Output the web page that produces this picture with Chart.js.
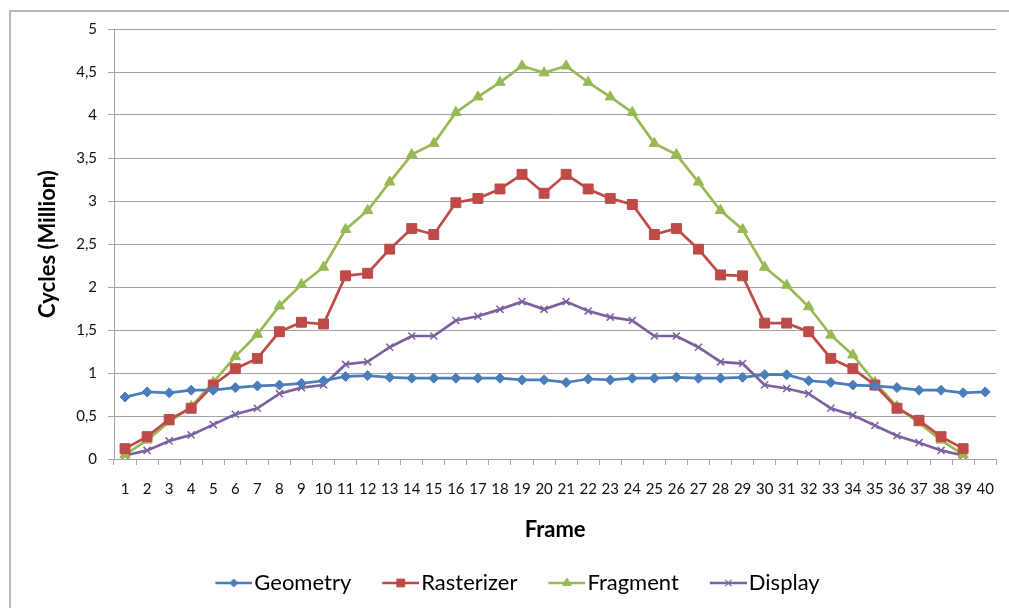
<!DOCTYPE html>
<html>
<head>
<meta charset="utf-8">
<script src="https://cdn.jsdelivr.net/npm/chart.js@4.4.1/dist/chart.umd.min.js"></script>
<style>
  html, body { margin: 0; padding: 0; background: #fff; }
  canvas { display: block; }
</style>
</head>
<body>
<canvas id="chart" width="1009" height="608"></canvas>
<script>
const frames = ['1', '2', '3', '4', '5', '6', '7', '8', '9', '10',
  '11', '12', '13', '14', '15', '16', '17', '18', '19', '20',
  '21', '22', '23', '24', '25', '26', '27', '28', '29', '30',
  '31', '32', '33', '34', '35', '36', '37', '38', '39', '40'];

const geometry = [0.72, 0.78, 0.77, 0.80, 0.80, 0.83, 0.85, 0.86, 0.88, 0.91,
  0.96, 0.97, 0.95, 0.94, 0.94, 0.94, 0.94, 0.94, 0.92, 0.92,
  0.89, 0.93, 0.92, 0.94, 0.94, 0.95, 0.94, 0.94, 0.95, 0.98,
  0.98, 0.91, 0.89, 0.86, 0.85, 0.83, 0.80, 0.80, 0.77, 0.78];

const rasterizer = [0.12, 0.26, 0.46, 0.59, 0.86, 1.05, 1.17, 1.48, 1.59, 1.57,
  2.13, 2.16, 2.44, 2.68, 2.61, 2.98, 3.03, 3.14, 3.31, 3.09,
  3.31, 3.14, 3.03, 2.96, 2.61, 2.68, 2.44, 2.14, 2.13, 1.58,
  1.58, 1.48, 1.17, 1.05, 0.86, 0.59, 0.45, 0.26, 0.12, null];

const fragment = [0.05, 0.22, 0.43, 0.61, 0.89, 1.19, 1.45, 1.78, 2.03, 2.23,
  2.67, 2.89, 3.22, 3.54, 3.67, 4.03, 4.21, 4.38, 4.57, 4.49,
  4.57, 4.38, 4.21, 4.03, 3.67, 3.54, 3.22, 2.89, 2.67, 2.23,
  2.02, 1.77, 1.44, 1.21, 0.89, 0.61, 0.42, 0.22, 0.05, null];

const display = [0.04, 0.10, 0.21, 0.28, 0.40, 0.52, 0.59, 0.76, 0.83, 0.86,
  1.10, 1.13, 1.30, 1.43, 1.43, 1.61, 1.66, 1.74, 1.83, 1.74,
  1.83, 1.72, 1.65, 1.61, 1.43, 1.43, 1.30, 1.13, 1.11, 0.86,
  0.82, 0.76, 0.59, 0.51, 0.39, 0.27, 0.19, 0.10, 0.04, null];

const gridColor = '#a3a3a3';

// line + marker swatch for the legend, drawn so the line ends right before the text
function legendIcon(color, style, radius, border) {
  const c = document.createElement('canvas');
  c.width = 58;
  c.height = 18;
  const ctx = c.getContext('2d');
  ctx.strokeStyle = color;
  ctx.fillStyle = color;
  ctx.lineWidth = 2.5;
  ctx.beginPath();
  ctx.moveTo(21, 9);
  ctx.lineTo(58, 9);
  ctx.stroke();
  ctx.lineWidth = border;
  Chart.helpers.drawPoint(ctx, { pointStyle: style, radius: radius, borderWidth: border, rotation: 0 }, 39.5, 9);
  return c;
}

// outer chart-area frame (only left/top edges are inside the picture)
const frameBorder = {
  id: 'frameBorder',
  beforeDraw(chart) {
    const ctx = chart.ctx;
    ctx.save();
    ctx.fillStyle = '#b9b9b9';
    ctx.fillRect(9, 10, 2, chart.height);
    ctx.fillRect(9, 10, chart.width, 2);
    ctx.restore();
  },
};

function build() {
  const series = [
    { label: 'Geometry', data: geometry, color: '#4a7ebb', style: 'rectRot', radius: 5, border: 1 },
    { label: 'Rasterizer', data: rasterizer, color: '#be4b48', style: 'rect', radius: 7, border: 1 },
    { label: 'Fragment', data: fragment, color: '#98b954', style: 'triangle', radius: 6, border: 1 },
    { label: 'Display', data: display, color: '#7d60a0', style: 'crossRot', radius: 5, border: 1.5 },
  ];

  const icons = [
    legendIcon('#4a7ebb', 'rectRot', 4, 1),
    legendIcon('#be4b48', 'rect', 5.5, 1),
    legendIcon('#98b954', 'triangle', 5, 1),
    legendIcon('#7d60a0', 'crossRot', 4.5, 1.2),
  ];

  new Chart(document.getElementById('chart'), {
    type: 'line',
    data: {
      labels: frames,
      datasets: series.map(s => ({
        label: s.label,
        data: s.data,
        borderColor: s.color,
        backgroundColor: s.color,
        borderWidth: 2.7,
        pointStyle: s.style,
        pointRadius: s.radius,
        pointBorderWidth: s.border,
        pointBackgroundColor: s.color,
        pointBorderColor: s.color,
        tension: 0,
        fill: false,
      })),
    },
    options: {
      responsive: false,
      animation: false,
      layout: { padding: { left: 23, right: 9, top: 29, bottom: 4 } },
      plugins: {
        tooltip: { enabled: false },
        legend: {
          position: 'bottom',
          labels: {
            usePointStyle: true,
            pointStyleWidth: 40,
            padding: 19,
            color: '#000',
            font: { family: 'Lato', size: 22 },
            generateLabels(chart) {
              const items = Chart.defaults.plugins.legend.labels.generateLabels(chart);
              items.forEach(item => { item.pointStyle = icons[item.datasetIndex]; });
              return items;
            },
          },
        },
      },
      scales: {
        x: {
          offset: true,
          grid: { offset: true, drawOnChartArea: false, tickLength: 6, color: gridColor },
          border: { color: gridColor },
          ticks: { autoSkip: false, maxRotation: 0, padding: 15, color: '#111', font: { family: 'Lato', size: 15 } },
          title: {
            display: true,
            text: 'Frame',
            color: '#000',
            font: { family: 'Lato', size: 22, weight: 'bold' },
            padding: { top: 0, bottom: 10 },
          },
          afterFit(scale) { scale.height = 94; },
        },
        y: {
          min: 0,
          max: 5,
          grid: { tickLength: 6, color: gridColor },
          border: { color: gridColor },
          ticks: {
            stepSize: 0.5,
            padding: 11,
            color: '#111',
            font: { family: 'Lato', size: 15 },
            callback: v => String(v).replace('.', ','),
          },
          title: {
            display: true,
            text: 'Cycles (Million)',
            color: '#000',
            font: { family: 'Lato', size: 22, weight: 'bold' },
            padding: { top: 12, bottom: 0 },
          },
          afterFit(scale) { scale.width = 91; },
        },
      },
    },
    plugins: [frameBorder],
  });
}

Promise.all([
  document.fonts.load('22px Lato'),
  document.fonts.load('bold 22px Lato'),
  document.fonts.load('15px Lato'),
]).then(build, build);
</script>
</body>
</html>
